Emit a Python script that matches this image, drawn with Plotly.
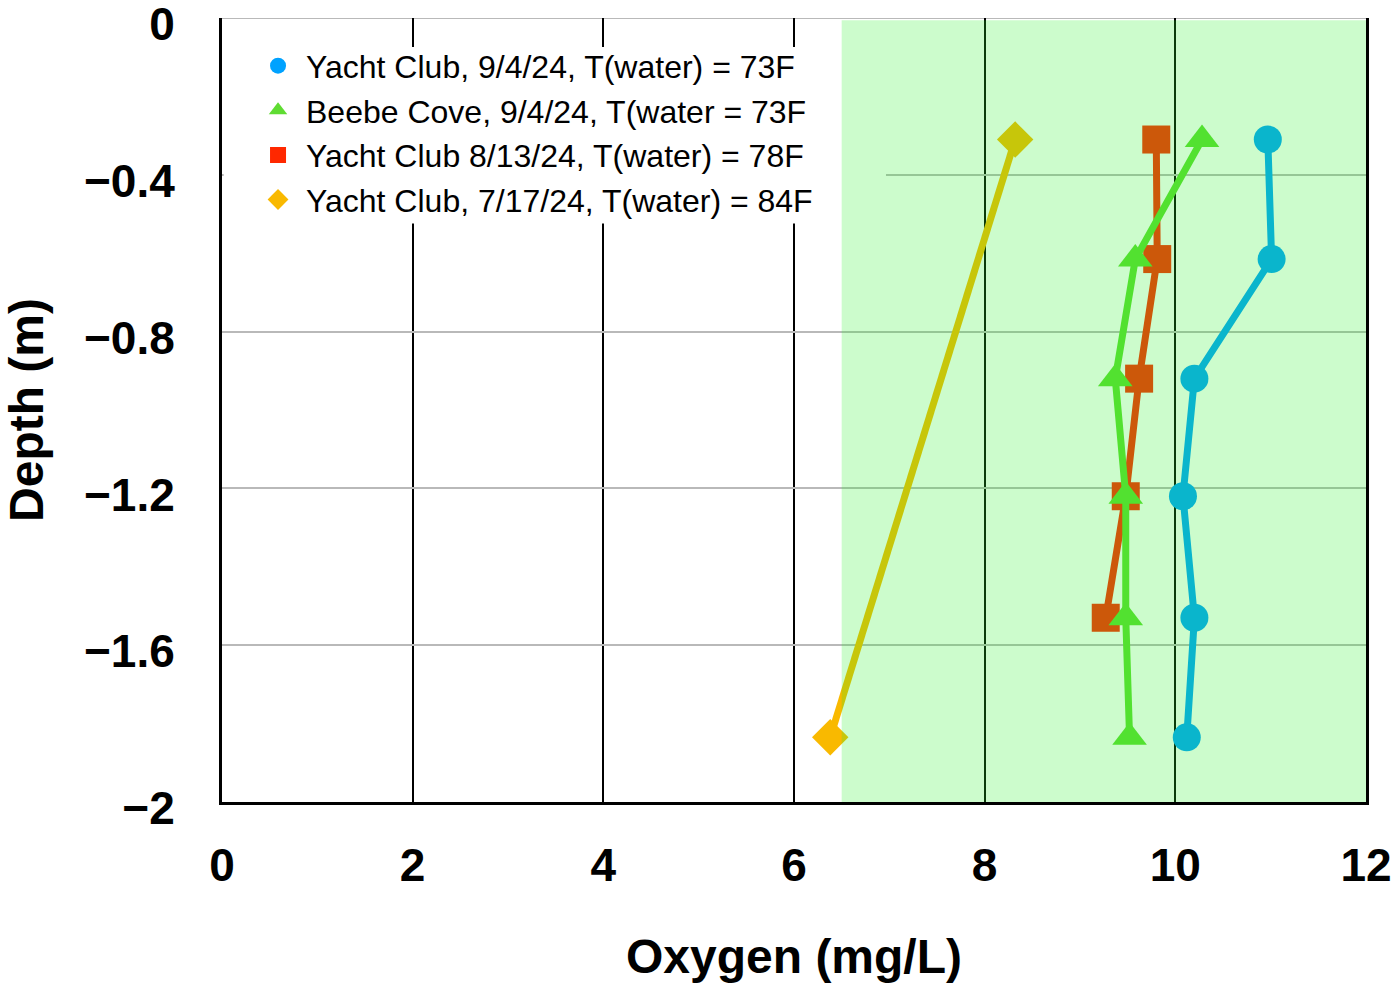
import plotly.graph_objects as go

# ---- data ----
depth_six = [-0.31, -0.615, -0.92, -1.22, -1.53, -1.835]
depth_five = [-0.31, -0.615, -0.92, -1.22, -1.53]
depth_two = [-0.31, -1.835]

yc_0904_oxygen = [10.97, 11.01, 10.20, 10.08, 10.20, 10.12]
bc_0904_oxygen = [10.28, 9.58, 9.37, 9.48, 9.48, 9.52]
yc_0813_oxygen = [9.80, 9.81, 9.62, 9.48, 9.27]
yc_0717_oxygen = [8.32, 6.38]

series_names = [
    "Yacht Club, 9/4/24, T(water) = 73F",
    "Beebe Cove, 9/4/24, T(water = 73F",
    "Yacht Club 8/13/24, T(water) = 78F",
    "Yacht Club, 7/17/24, T(water) = 84F",
]
series_colors = ["#00a2ff", "#5fdc32", "#ff2800", "#f9b900"]
series_symbols = ["circle", "triangle-up", "square", "diamond"]

healthy_range = [6.5, 12]
x_range = [0, 12]
y_range = [-2, 0]

FONT = "Liberation Sans, Arial, Helvetica, sans-serif"

fig = go.Figure()

# data traces (drawn bottom to top)
draw = [
    (yc_0717_oxygen, depth_two, 3),
    (yc_0813_oxygen, depth_five, 2),
    (bc_0904_oxygen, depth_six, 1),
    (yc_0904_oxygen, depth_six, 0),
]
for xs, ys, i in draw:
    fig.add_trace(go.Scatter(
        x=xs, y=ys, mode="lines+markers",
        line=dict(color=series_colors[i], width=7),
        marker=dict(color=series_colors[i], symbol=series_symbols[i],
                    size=28 if series_symbols[i] != "triangle-up" else 30,
                    line=dict(width=0)),
        showlegend=False, hoverinfo="x+y", name=series_names[i],
    ))

# legend entries
for i in range(4):
    fig.add_trace(go.Scatter(
        x=[None], y=[None], mode="markers",
        marker=dict(color=series_colors[i], symbol=series_symbols[i], size=16,
                    line=dict(width=0)),
        name=series_names[i], showlegend=True,
    ))

# top gridline at depth 0 (plotly drops grid lines at the range edge)
fig.add_shape(type="line", xref="paper", yref="y", x0=0, x1=1, y0=0, y1=0,
              line=dict(color="#b9b9b9", width=2), layer="between")
# white backing behind legend (hides gridlines)
fig.add_shape(type="rect", xref="paper", yref="paper",
              x0=0.0015, x1=0.5804, y0=0.738, y1=0.963,
              fillcolor="white", line=dict(width=0), layer="above")
# translucent green healthy band over everything
fig.add_shape(type="rect", xref="x", yref="y",
              x0=healthy_range[0], x1=healthy_range[1], y0=y_range[0], y1=y_range[1] - 0.006,
              fillcolor="rgba(42,242,42,0.24)", line=dict(width=0), layer="above")

fig.update_layout(
    width=1398, height=984,
    margin=dict(l=222, r=32, t=18, b=182, autoexpand=False),
    paper_bgcolor="white", plot_bgcolor="white",
    font=dict(family=FONT, color="black"),
    legend=dict(
        x=0.0245, y=0.974, xanchor="left", yanchor="top",
        bgcolor="rgba(0,0,0,0)", borderwidth=0, itemwidth=46,
        font=dict(family=FONT, size=32, color="black"),
    ),
    xaxis=dict(
        range=x_range, tick0=0, dtick=2, showgrid=True, automargin=False,
        gridcolor="black", gridwidth=2, zeroline=False,
        showline=True, linecolor="black", linewidth=3, mirror=False,
        ticks="", ticklabelstandoff=21, ticklabeloverflow="allow",
        tickfont=dict(family=FONT, size=46, weight="bold", color="black"),
        title=dict(text="Oxygen (mg/L)", standoff=50,
                   font=dict(family=FONT, size=48, weight="bold", color="black")),
    ),
    yaxis=dict(
        range=y_range, tick0=0, dtick=0.4, showgrid=True, automargin=False,
        gridcolor="#b9b9b9", gridwidth=2, zeroline=False,
        showline=True, linecolor="black", linewidth=3, mirror=True,
        ticks="", ticklabelstandoff=35, ticklabelshift=6, ticklabeloverflow="allow",
        tickfont=dict(family=FONT, size=46, weight="bold", color="black"),
        title=dict(text="Depth (m)", standoff=40,
                   font=dict(family=FONT, size=48, weight="bold", color="black")),
    ),
)

fig.write_html("out.html")
